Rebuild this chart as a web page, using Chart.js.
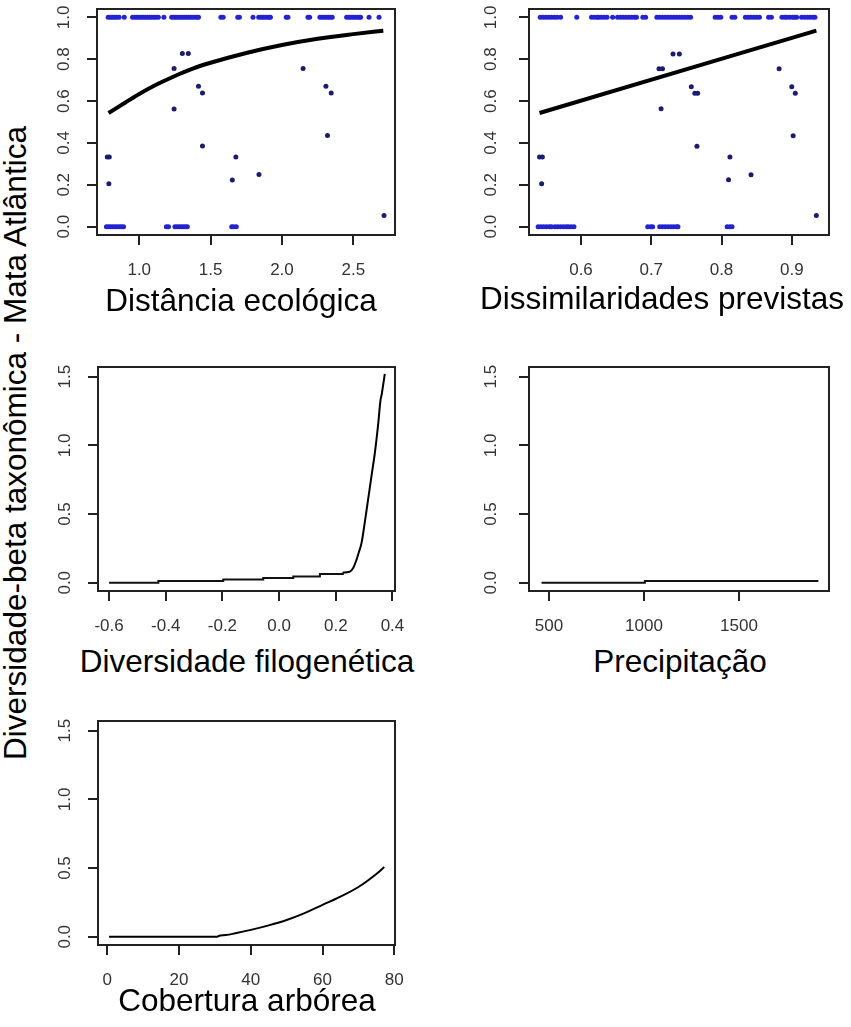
<!DOCTYPE html>
<html>
<head>
<meta charset="utf-8">
<script src="https://cdn.jsdelivr.net/npm/chart.js@4.4.1/dist/chart.umd.min.js"></script>
<style>
  body { margin: 0; background: #fff; }
  #page { position: relative; width: 851px; height: 1027px; overflow: hidden; font-family: Arial, "Liberation Sans", sans-serif; }
  canvas { position: absolute; }
  .lab { position: absolute; white-space: nowrap; font-size: 31.5px; line-height: 1; color: #000; transform: translateX(-50%); }
  #ylab { position: absolute; left: 16px; top: 443px; white-space: nowrap; font-size: 31.5px; line-height: 1; color: #000;
          transform: translate(-50%, -50%) rotate(-90deg); }
</style>
</head>
<body>
<div id="page">
  <canvas id="p1"></canvas>
  <canvas id="p2"></canvas>
  <canvas id="p3"></canvas>
  <canvas id="p4"></canvas>
  <canvas id="p5"></canvas>
  <div class="lab" style="left:241px; top:285px">Distância ecológica</div>
  <div class="lab" style="left:662px; top:283px">Dissimilaridades previstas</div>
  <div class="lab" style="left:247px; top:646px">Diversidade filogenética</div>
  <div class="lab" style="left:680px; top:646px">Precipitação</div>
  <div class="lab" style="left:247px; top:985px">Cobertura arbórea</div>
  <div id="ylab">Diversidade-beta taxonômica - Mata Atlântica</div>
</div>
<script>
const FONT = "Arial, 'Liberation Sans', sans-serif";
Chart.defaults.font.family = FONT;

// ---- Distância ecológica (observed dissimilarity vs ecological distance)
const ecoOnesX = [0.782, 0.797, 0.812, 0.827, 0.842, 0.859, 0.895,
  0.953, 0.968, 0.983, 0.998, 1.013, 1.028, 1.043, 1.058, 1.073, 1.088, 1.103, 1.118, 1.134, 1.173,
  1.227, 1.242, 1.257, 1.272, 1.287, 1.302, 1.317, 1.332, 1.347, 1.362, 1.377, 1.392, 1.407, 1.415,
  1.572, 1.588, 1.690, 1.702, 1.797, 1.837, 1.852, 1.867, 1.882, 1.897, 1.912, 1.919,
  2.030, 2.042, 2.182, 2.194, 2.266, 2.281, 2.296, 2.311, 2.326, 2.341, 2.352,
  2.453, 2.468, 2.483, 2.498, 2.513, 2.528, 2.543, 2.551, 2.610, 2.680];
const ecoZerosX = [0.770, 0.785, 0.800, 0.815, 0.830, 0.845, 0.860, 0.875, 0.890,
  1.190, 1.205, 1.250, 1.265, 1.280, 1.295, 1.310, 1.325, 1.337, 1.648, 1.662, 1.680];
const ecoMidX = [0.776, 0.790, 0.787, 1.244, 1.244, 1.302, 1.344, 1.415, 1.443, 1.443, 1.652, 1.677, 1.839, 2.148, 2.308, 2.345, 2.319, 2.715];
const ecoMidY = [0.333, 0.333, 0.205, 0.756, 0.562, 0.827, 0.827, 0.671, 0.639, 0.385, 0.223, 0.333, 0.249, 0.756, 0.671, 0.639, 0.435, 0.053];
const ecoFitX = [0.785, 0.9, 1.0, 1.125, 1.25, 1.375, 1.5, 1.75, 2.0, 2.25, 2.5, 2.71];
const ecoFitY = [0.543, 0.592, 0.634, 0.680, 0.720, 0.755, 0.783, 0.830, 0.868, 0.898, 0.920, 0.936];

// ---- Dissimilaridades previstas (observed vs predicted)
const predOnesX = [0.542, 0.546, 0.550, 0.554, 0.558, 0.562, 0.566, 0.571, 0.594,
  0.615, 0.619, 0.623, 0.625, 0.629, 0.633, 0.637, 0.645,
  0.652, 0.656, 0.660, 0.664, 0.668, 0.672, 0.676, 0.679, 0.688, 0.692,
  0.708, 0.712, 0.716, 0.720, 0.724, 0.728, 0.732, 0.736, 0.740, 0.744, 0.748, 0.752, 0.756,
  0.791, 0.795, 0.799, 0.815, 0.819, 0.834, 0.838, 0.842, 0.846, 0.850, 0.854, 0.867, 0.871,
  0.886, 0.890, 0.893, 0.897, 0.901, 0.904, 0.907, 0.914, 0.918, 0.922, 0.926, 0.930, 0.933];
const predZerosX = [0.539, 0.543, 0.547, 0.551, 0.555, 0.558, 0.563, 0.567, 0.571, 0.575, 0.579, 0.582, 0.586, 0.590,
  0.695, 0.699, 0.702, 0.712, 0.716, 0.720, 0.724, 0.728, 0.732, 0.736, 0.738, 0.808, 0.812, 0.815];
const predMidX = [0.541, 0.545, 0.544, 0.711, 0.716, 0.714, 0.731, 0.740, 0.757, 0.762, 0.766, 0.765, 0.810, 0.812, 0.842, 0.882, 0.900, 0.905, 0.902, 0.935];
const predMidY = [0.333, 0.333, 0.205, 0.754, 0.754, 0.563, 0.825, 0.825, 0.669, 0.637, 0.637, 0.384, 0.224, 0.333, 0.248, 0.754, 0.669, 0.637, 0.434, 0.053];
const predFitX = [0.541, 0.935];
const predFitY = [0.543, 0.937];

// ---- partial functions
// phylo: flat stepped part, then the steep rise
const phyloStepX = [-0.600, -0.426, -0.426, -0.197, -0.197, -0.056, -0.056, 0.050, 0.050, 0.144, 0.144, 0.225, 0.225];
const phyloStepY = [0.000, 0.000, 0.012, 0.012, 0.024, 0.024, 0.034, 0.034, 0.046, 0.046, 0.063, 0.063, 0.075];
const phyloRiseX = [0.225, 0.249, 0.262, 0.272, 0.281, 0.291, 0.302, 0.314, 0.326, 0.338, 0.349, 0.358, 0.362, 0.373];
const phyloRiseY = [0.075, 0.080, 0.110, 0.160, 0.220, 0.290, 0.434, 0.605, 0.776, 0.946, 1.141, 1.330, 1.370, 1.520];
const precX = [461, 1005, 1005, 1918];
const precY = [0, 0, 0.012, 0.012];
const coverX = [0.46, 30.7, 31.0, 33, 36, 40, 45, 50, 55, 60, 65, 70, 75, 77.2];
const coverY = [0, 0, 0.006, 0.012, 0.027, 0.05, 0.083, 0.122, 0.172, 0.232, 0.292, 0.362, 0.457, 0.507];

// tick values
const obsTicks = [0, 0.2, 0.4, 0.6, 0.8, 1.0];
const fnTicks = [0, 0.5, 1.0, 1.5];
const ecoTicks = [1.0, 1.5, 2.0, 2.5];
const predTicks = [0.6, 0.7, 0.8, 0.9];
const phyloTicks = [-0.6, -0.4, -0.2, 0.0, 0.2, 0.4];
const precTicks = [500, 1000, 1500];
const coverTicks = [0, 20, 40, 60, 80];

const xy = (xs, ys) => xs.map((x, i) => ({ x: x, y: ys[i] }));
const row = (xs, v) => xs.map(x => ({ x: x, y: v }));

const Y_W = 57, PAD_TOP = 12, PAD_RIGHT = 18, X_H = 50;

const frame = {
  id: 'frame',
  afterDraw(chart) {
    const { ctx, chartArea: a } = chart;
    ctx.save();
    ctx.strokeStyle = '#222';
    ctx.lineWidth = 2;
    ctx.strokeRect(a.left, a.top, a.right - a.left, a.bottom - a.top);
    ctx.restore();
  }
};

function axis(a, isY, pad) {
  return {
    type: 'linear',
    min: a.min,
    max: a.max,
    afterBuildTicks: s => { s.ticks = a.ticks.map(v => ({ value: v })); },
    afterFit: s => {
      if (isY) s.width = Y_W; else s.height = X_H;
      // keep label overhang from moving the plot box
      s.paddingTop = s.paddingBottom = s.paddingLeft = s.paddingRight = 0;
    },
    ticks: {
      autoSkip: false,
      padding: pad,
      color: '#333',
      font: { size: 17 },
      minRotation: isY ? 90 : 0,
      maxRotation: isY ? 90 : 0,
      crossAlign: isY ? 'center' : 'near',
      callback: v => Number(v).toFixed(a.dec)
    },
    grid: { drawOnChartArea: false, drawTicks: true, tickLength: 10, color: '#222', lineWidth: 2 },
    border: { display: true, color: '#222', width: 2 }
  };
}

function panel(id, box, x, y, yPad, datasets) {
  const cv = document.getElementById(id);
  cv.width = Y_W + (box.r - box.l) + PAD_RIGHT;
  cv.height = PAD_TOP + (box.b - box.t) + X_H;
  cv.style.left = (box.l - Y_W) + 'px';
  cv.style.top = (box.t - PAD_TOP) + 'px';
  new Chart(cv, {
    type: 'scatter',
    data: { datasets: datasets },
    options: {
      responsive: false,
      animation: false,
      layout: { padding: { top: PAD_TOP, right: PAD_RIGHT, left: 0, bottom: 0 } },
      plugins: { legend: { display: false }, tooltip: { enabled: false } },
      scales: { x: axis(x, false, 15), y: axis(y, true, yPad) }
    },
    plugins: [frame]
  });
}

const fitLine = (data, w) => ({ data: data, showLine: true, borderColor: '#000', borderWidth: w, pointRadius: 0, cubicInterpolationMode: 'monotone' });
const stepLine = data => ({ data: data, showLine: true, borderColor: '#111', borderWidth: 2, pointRadius: 0, tension: 0 });
const dots = (data, color) => ({ data: data, pointRadius: 2.5, pointBackgroundColor: color, pointBorderWidth: 0 });

const obsY = { min: -0.04, max: 1.04, ticks: obsTicks, dec: 1 };
const fnY = { min: -0.06, max: 1.57, ticks: fnTicks, dec: 1 };

panel('p1', { l: 97, r: 395, t: 9, b: 235 },
  { min: 0.704, max: 2.792, ticks: ecoTicks, dec: 1 }, obsY, 11, [
    fitLine(xy(ecoFitX, ecoFitY), 4),
    dots(row(ecoOnesX, 1), '#2323d2'),
    dots(row(ecoZerosX, 0), '#2323d2'),
    dots(xy(ecoMidX, ecoMidY), '#1b1b70')
  ]);

panel('p2', { l: 529, r: 829, t: 9, b: 235 },
  { min: 0.526, max: 0.953, ticks: predTicks, dec: 1 }, obsY, 16, [
    fitLine(xy(predFitX, predFitY), 4),
    dots(row(predOnesX, 1), '#2323d2'),
    dots(row(predZerosX, 0), '#2323d2'),
    dots(xy(predMidX, predMidY), '#1b1b70')
  ]);

panel('p3', { l: 98, r: 395, t: 367, b: 591 },
  { min: -0.639, max: 0.409, ticks: phyloTicks, dec: 1 }, fnY, 11, [
    stepLine(xy(phyloStepX, phyloStepY)),
    fitLine(xy(phyloRiseX, phyloRiseY), 2)
  ]);

panel('p4', { l: 529, r: 829, t: 367, b: 591 },
  { min: 395, max: 1974, ticks: precTicks, dec: 0 }, fnY, 16, [
    stepLine(xy(precX, precY))
  ]);

panel('p5', { l: 98, r: 395, t: 721, b: 945 },
  { min: -2.6, max: 80.2, ticks: coverTicks, dec: 0 }, fnY, 11, [
    fitLine(xy(coverX, coverY), 2)
  ]);
</script>
</body>
</html>
